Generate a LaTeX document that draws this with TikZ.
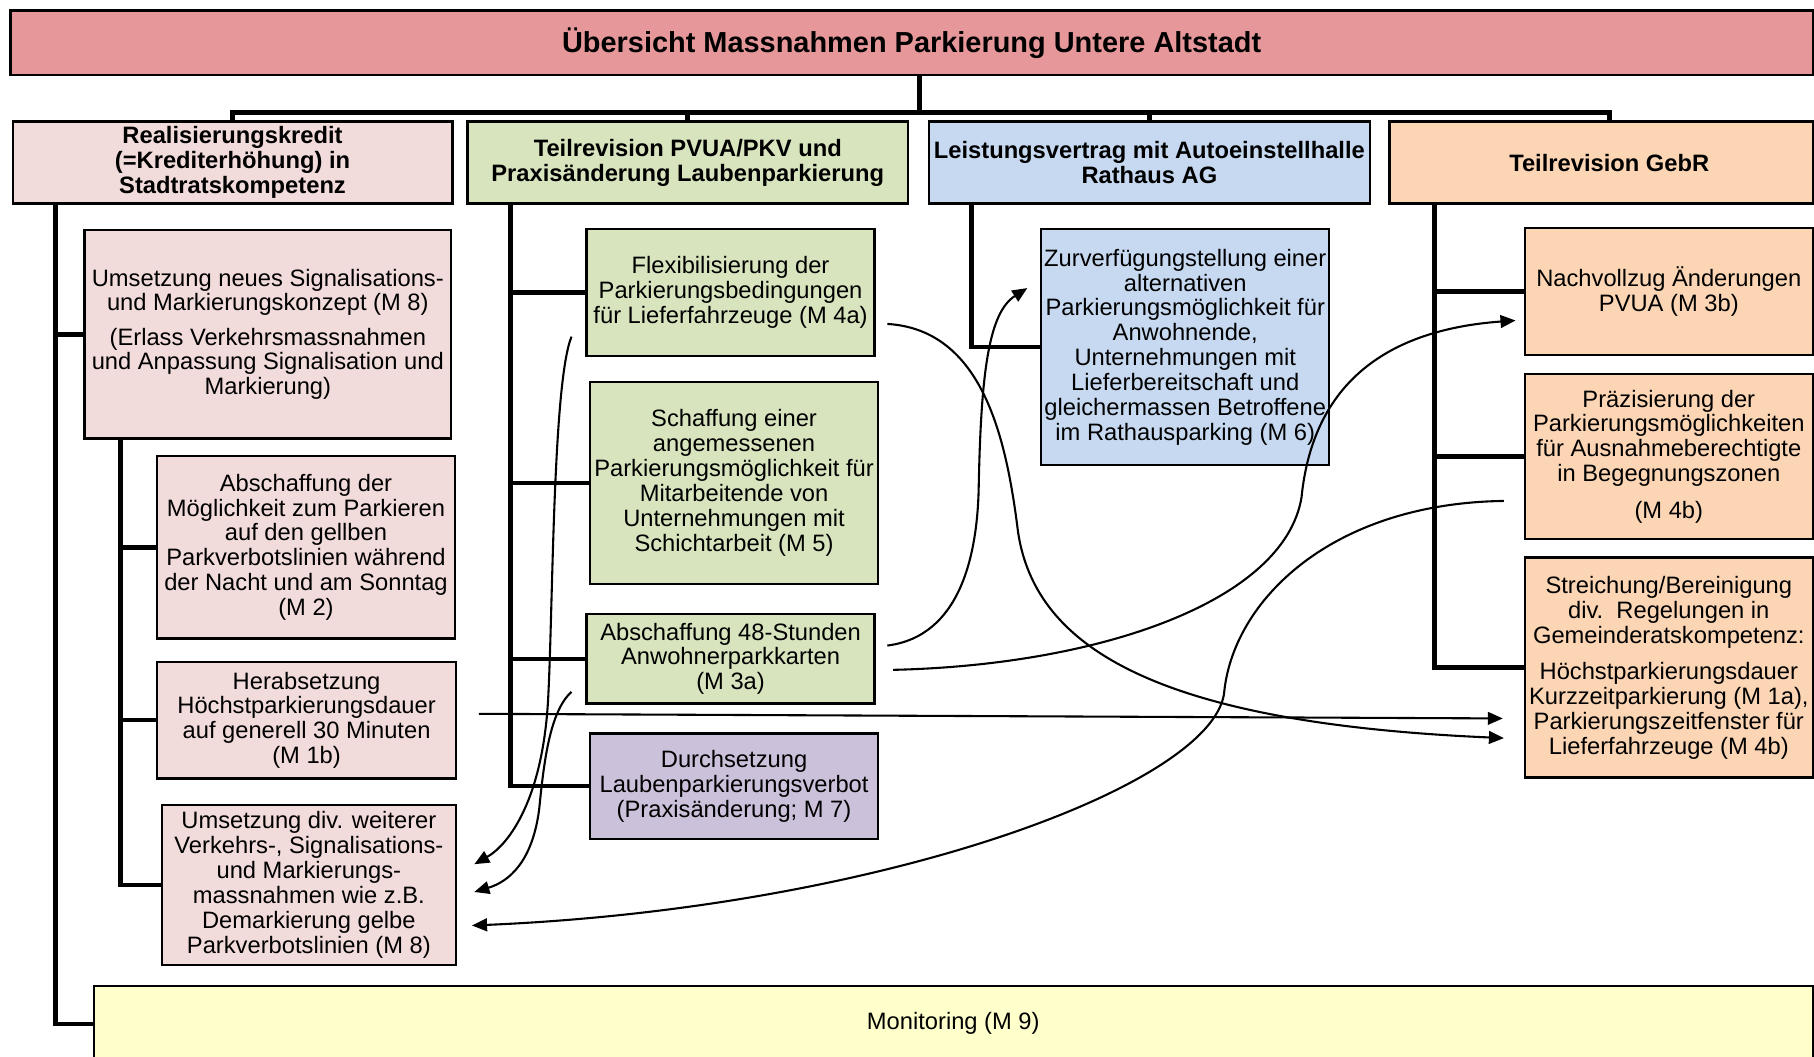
\documentclass[tikz,border=0pt]{standalone}
\usepackage{fontspec}
\setmainfont{Liberation Sans}
\usetikzlibrary{arrows.meta,calc}
\definecolor{titlec}{HTML}{E6979A}
\definecolor{pinkc}{HTML}{F2DCDB}
\definecolor{greenc}{HTML}{D7E4BD}
\definecolor{bluec}{HTML}{C6D9F1}
\definecolor{peachc}{HTML}{FCD5B5}
\definecolor{lavc}{HTML}{CCC1DA}
\definecolor{monc}{HTML}{FFFFCC}
\begin{document}
\begin{tikzpicture}[x=1pt,y=-1pt,
  box/.style={draw=black, line width=2pt, inner sep=0pt, align=center, anchor=north west,
    font=\fontsize{20.5}{21.5}\selectfont},
  hdr/.style={box, font=\bfseries\fontsize{20.5}{21.5}\selectfont},
  tree/.style={line width=4pt, line join=miter},
  link/.style={line width=1.8pt, -{Triangle[length=13pt,width=11pt]}},
  plain/.style={line width=1.8pt}]
\useasboundingbox (0,0) rectangle (1568,913);

% title
\node[box, fill=titlec, minimum width=1558pt, minimum height=56pt,
  font=\bfseries\fontsize{25}{28}\selectfont] (title) at (8,8)
  {\"Ubersicht Massnahmen Parkierung Untere Altstadt};

% level 1
\node[hdr, fill=pinkc, minimum width=380pt, minimum height=71pt] (A) at (10,104)
  {Realisierungskredit\\(=Krediterhöhung) in\\Stadtratskompetenz};
\node[hdr, fill=greenc, minimum width=381pt, minimum height=71pt] (B) at (403,104)
  {Teilrevision PVUA/PKV und\\Praxisänderung Laubenparkierung};
\node[hdr, fill=bluec, minimum width=381pt, minimum height=71pt] (C) at (802,104)
  {Leistungsvertrag mit Autoeinstellhalle\\Rathaus AG};
\node[hdr, fill=peachc, minimum width=366pt, minimum height=71pt] (D) at (1200,104)
  {\hspace*{14pt}Teilrevision GebR};

% column A
\node[box, fill=pinkc, minimum width=317pt, minimum height=180pt] (m8a) at (72,198)
  {Umsetzung neues Signalisations-\\und Markierungskonzept (M 8)\\[8pt](Erlass Verkehrsmassnahmen\\und Anpassung Signalisation und\\Markierung)};
\node[box, fill=pinkc, minimum width=257pt, minimum height=158pt] (m2) at (135,393)
  {Abschaffung der\\Möglichkeit zum Parkieren\\auf den gellben\\Parkverbotslinien während\\der Nacht und am Sonntag\\(M 2)};
\node[box, fill=pinkc, minimum width=258pt, minimum height=101pt] (m1b) at (135,571)
  {Herabsetzung\\Höchstparkierungsdauer\\auf generell 30 Minuten\\(M 1b)};
\node[box, fill=pinkc, minimum width=254pt, minimum height=138pt] (m8b) at (139,695)
  {Umsetzung div. weiterer\\Verkehrs-, Signalisations-\\und Markierungs-\\massnahmen wie z.B.\\Demarkierung gelbe\\Parkverbotslinien (M 8)};

% column B
\node[box, fill=greenc, minimum width=249pt, minimum height=110pt] (m4a) at (506,197)
  {Flexibilisierung der\\Parkierungsbedingungen\\für Lieferfahrzeuge (M 4a)};
\node[box, fill=greenc, minimum width=249pt, minimum height=175pt] (m5) at (509,329)
  {Schaffung einer\\angemessenen\\Parkierungsmöglichkeit für\\Mitarbeitende von\\Unternehmungen mit\\Schichtarbeit (M 5)};
\node[box, fill=greenc, minimum width=249pt, minimum height=77pt] (m3a) at (506,530)
  {Abschaffung 48-Stunden\\Anwohnerparkkarten\\(M 3a)};
\node[box, fill=lavc, minimum width=249pt, minimum height=91pt] (m7) at (509,633)
  {Durchsetzung\\Laubenparkierungsverbot\\(Praxisänderung; M 7)};

% column C
\node[box, fill=bluec, minimum width=249pt, minimum height=204pt] (m6) at (899,197)
  {Zurverfügungstellung einer\\alternativen\\Parkierungsmöglichkeit für\\Anwohnende,\\Unternehmungen mit\\Lieferbereitschaft und\\gleichermassen Betroffene\\im Rathausparking (M 6)};

% column D
\node[box, fill=peachc, minimum width=249pt, minimum height=110pt] (m3b) at (1317,196)
  {Nachvollzug Änderungen\\PVUA (M 3b)};
\node[box, fill=peachc, minimum width=249pt, minimum height=143pt] (m4b) at (1317,322)
  {Präzisierung der\\Parkierungsmöglichkeiten\\für Ausnahmeberechtigte\\in Begegnungszonen\\[10pt](M 4b)};
\node[box, fill=peachc, minimum width=249pt, minimum height=190pt] (str) at (1317,481)
  {Streichung/Bereinigung\\div.\ \ Regelungen in\\Gemeinderatskompetenz:\\[10pt]Höchstparkierungsdauer\\Kurzzeitparkierung (M 1a),\\Parkierungszeitfenster für\\Lieferfahrzeuge (M 4b)};

% monitoring
\node[box, fill=monc, minimum width=1486pt, minimum height=66pt] (mon) at (80,851)
  {Monitoring (M 9)};

% tree connectors
\coordinate (bus) at (795,97);
\coordinate (ta) at (48,0);
\coordinate (ta2) at (104,0);
\coordinate (tb) at (441,0);
\coordinate (tc) at (840,0);
\coordinate (td) at (1240,0);
\draw[tree] (title.south -| bus) -- (bus);
\draw[tree] (A.north) -- (A.north |- bus) -- ([xshift=7pt]D.north |- bus) -- ([xshift=7pt]D.north);
\draw[tree] (B.north) -- (B.north |- bus);
\draw[tree] (C.north) -- (C.north |- bus);

\draw[tree] (A.south -| ta) -- (mon.west -| ta) -- (mon.west);
\draw[tree] (m8a.west -| ta) -- (m8a.west);
\draw[tree] (m8a.south -| ta2) -- (m8b.west -| ta2) -- (m8b.west);
\draw[tree] (m2.west -| ta2) -- (m2.west);
\draw[tree] (m1b.west -| ta2) -- (m1b.west);

\draw[tree] (B.south -| tb) -- (m7.west -| tb) -- (m7.west);
\draw[tree] (m4a.west -| tb) -- (m4a.west);
\draw[tree] (m5.west -| tb) -- (m5.west);
\draw[tree] (m3a.west -| tb) -- (m3a.west);

\draw[tree] (C.south -| tc) -- (m6.west -| tc) -- (m6.west);

\draw[tree] (D.south -| td) -- (str.west -| td) -- (str.west);
\draw[tree] (m3b.west -| td) -- (m3b.west);
\draw[tree] (m4b.west -| td) -- (m4b.west);

% cross links
\draw[link] ($(m4a.east)+(10,27)$) .. controls (850,285) and (870,380) .. (880,460)
  .. controls (895,560) and (1000,625) .. ($(str.west)+(-17,61)$);
\draw[link] ($(m3a.east)+(10,-11.5)$) .. controls (830,550) and (845,480) .. (846,420)
  .. controls (848,320) and (855,270) .. ($(m6.west)+(-11,-51)$);
\draw[link] ($(m3a.east)+(15,9.5)$) .. controls (950,575) and (1110,520) .. (1125,430)
  .. controls (1135,330) and (1200,285) .. ($(m3b.west)+(-7,25)$);
\draw[link] ($(m1b.east)+(19,-5.5)$) -- ($(str.west)+(-18,44)$);
\draw[link] ($(m4b.west)+(-17,38.5)$) .. controls (1150,435) and (1065,520) .. (1058,600)
  .. controls (1045,680) and (760,785) .. ($(m8b.east)+(13,35)$);
\draw[link] ($(m4a.west)+(-12,38)$) .. controls (478,330) and (478,520) .. (474,600)
  .. controls (470,690) and (440,730) .. ($(m8b.east)+(15,-18)$);
\draw[link] ($(m3a.west)+(-12,28.5)$) .. controls (475,615) and (470,660) .. (466,700)
  .. controls (460,745) and (440,762) .. ($(m8b.east)+(15,6)$);
\end{tikzpicture}
\end{document}
